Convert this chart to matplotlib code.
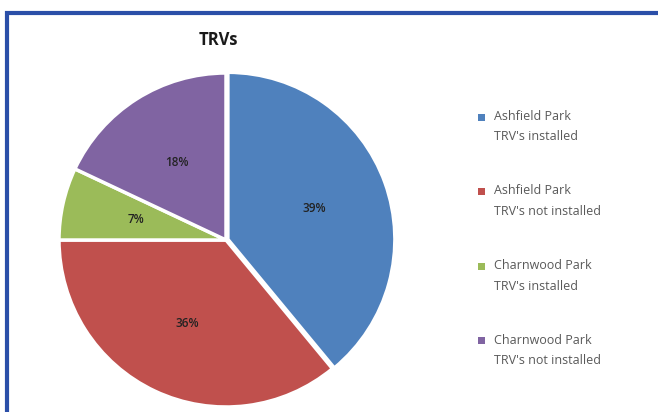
import matplotlib
matplotlib.use("Agg")
import matplotlib.pyplot as plt
from matplotlib.patches import Rectangle

plt.rcParams['font.family'] = ['Open Sans', 'DejaVu Sans']

title = "TRVs"
categories = ["Ashfield Park\nTRV's installed",
              "Ashfield Park\nTRV's not installed",
              "Charnwood Park\nTRV's installed",
              "Charnwood Park\nTRV's not installed"]
values = [39, 36, 7, 18]
colors = ["#4F81BD", "#C0504D", "#9BBB59", "#8064A2"]

W, H = 658, 412
fig = plt.figure(figsize=(W / 100, H / 100), dpi=100)

# pie axes: centre ~ (226, 240) px, radius ~167 px
cx, cy, r = 226, 240, 167
ax = fig.add_axes([(cx - r) / W, (H - cy - r) / H, 2 * r / W, 2 * r / H])
wedges, texts, autotexts = ax.pie(
    values, colors=colors, startangle=90, counterclock=False,
    explode=[0.012, 0, 0, 0],
    autopct=lambda p: f"{p:.0f}%", pctdistance=0.55,
    wedgeprops=dict(edgecolor="white", linewidth=2.5),
    textprops=dict(fontsize=8.5, color="#222222", fontweight="semibold"))
ax.set_xlim(-1, 1)
ax.set_ylim(-1, 1)
ax.set_aspect("equal")

fig.text(218 / W, 1 - 40 / H, title, ha="center", va="center",
         fontsize=12, fontweight="bold", color="#1a1a1a")

# legend (manual to align marker with first line)
y0 = 117
dy = 74.5
for i, (lab, col) in enumerate(zip(categories, colors)):
    y = y0 + i * dy
    fig.add_artist(Rectangle((478 / W, 1 - (y + 3.5) / H), 7 / W, 7 / H,
                             transform=fig.transFigure, facecolor=col,
                             edgecolor="none"))
    fig.text(494 / W, 1 - (y - 7) / H, lab, ha="left", va="top",
             fontsize=9, color="#595959", linespacing=1.75)

# blue frame extending beyond the image on the right and bottom
fig.add_artist(Rectangle((7 / W, -0.1), 1.2, 1 - 12.5 / H + 0.1,
                         transform=fig.transFigure, facecolor="none",
                         edgecolor="#2B4FA8", linewidth=3))

fig.savefig("out.png", dpi=100)
